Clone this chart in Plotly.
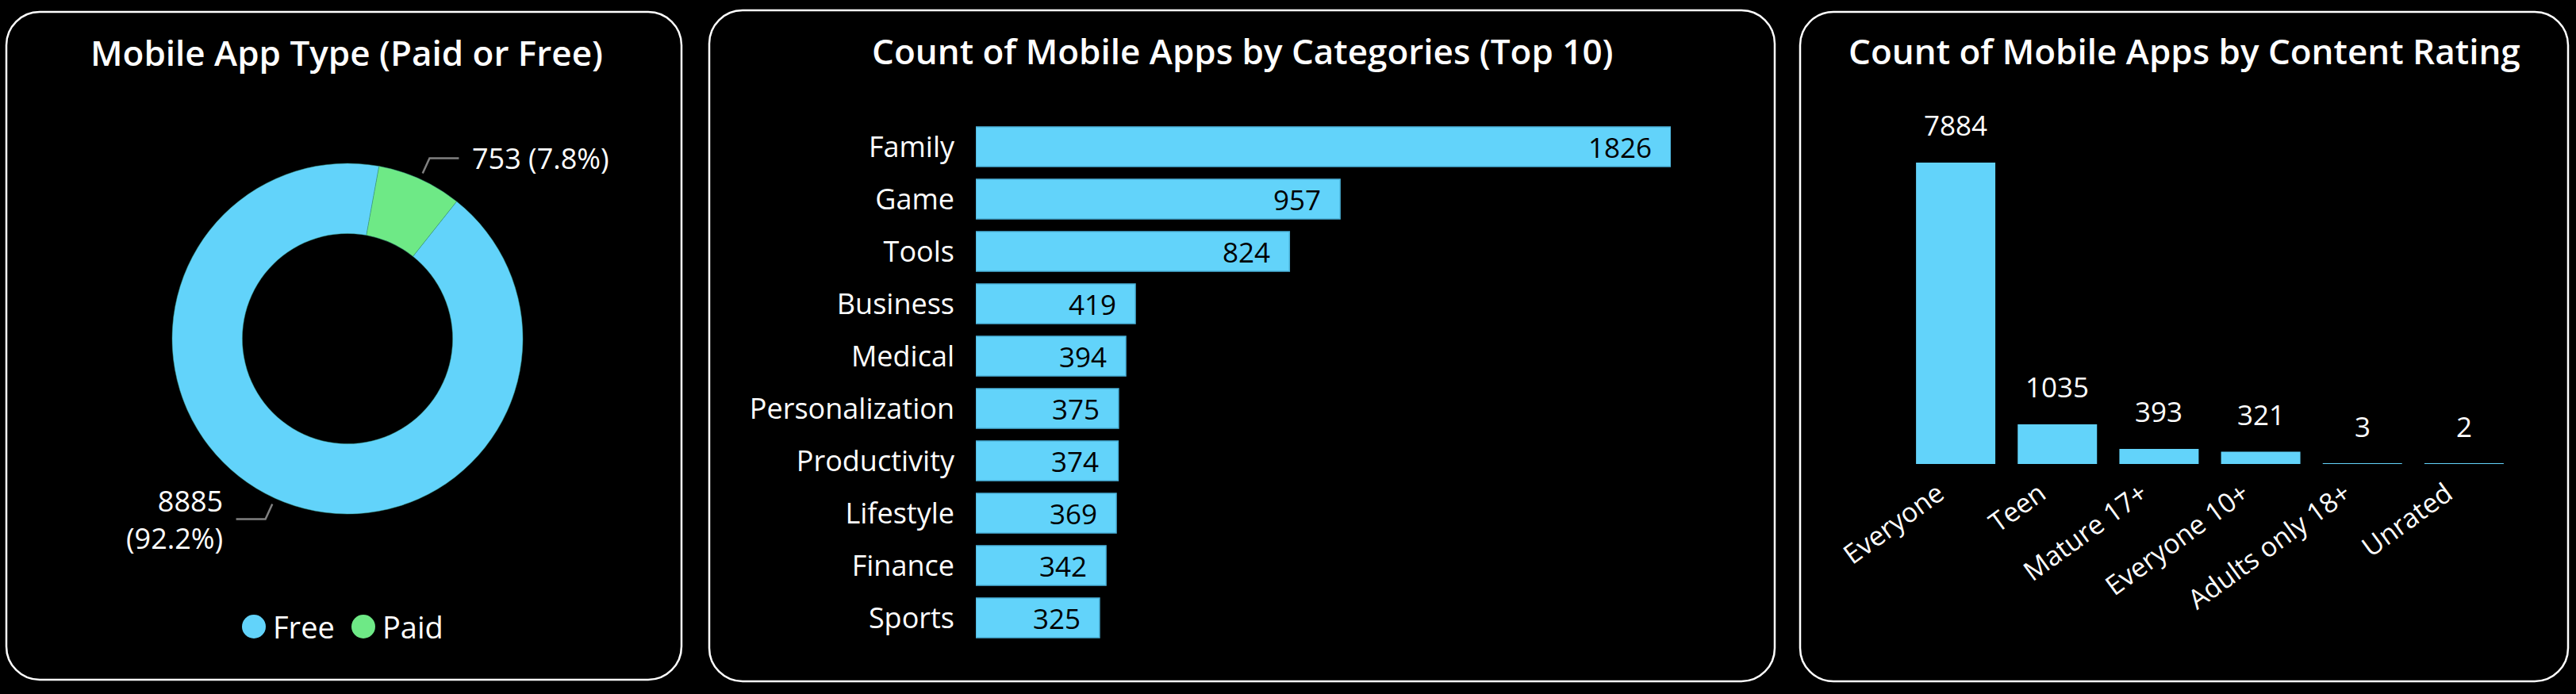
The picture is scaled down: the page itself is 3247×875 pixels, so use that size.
import math
import plotly.graph_objects as go

# ---------------- data ----------------
app_types = ["Free", "Paid"]
app_type_counts = [8885, 753]
app_type_colors = ["#62D3FA", "#6EE986"]

categories = ["Family", "Game", "Tools", "Business", "Medical",
              "Personalization", "Productivity", "Lifestyle", "Finance", "Sports"]
category_counts = [1826, 957, 824, 419, 394, 375, 374, 369, 342, 325]

ratings = ["Everyone", "Teen", "Mature 17+", "Everyone 10+", "Adults only 18+", "Unrated"]
rating_counts = [7884, 1035, 393, 321, 3, 2]

titles = ["Mobile App Type (Paid or Free)",
          "Count of Mobile Apps by Categories (Top 10)",
          "Count of Mobile Apps by Content Rating"]

# ---------------- layout helpers ----------------
W, H = 3247, 875
FONT = "Segoe UI, Open Sans, sans-serif"
BLUE = "#62D3FA"
BAR_EDGE = "#4BB3DA"


def px(x):
    return x / W


def py(y):
    return 1 - y / H


def rrect(x0, y0, x1, y1, r):
    k = 0.5523 * r
    pts = [
        f"M{px(x0 + r)},{py(y0)}", f"L{px(x1 - r)},{py(y0)}",
        f"C{px(x1 - r + k)},{py(y0)} {px(x1)},{py(y0 + r - k)} {px(x1)},{py(y0 + r)}",
        f"L{px(x1)},{py(y1 - r)}",
        f"C{px(x1)},{py(y1 - r + k)} {px(x1 - r + k)},{py(y1)} {px(x1 - r)},{py(y1)}",
        f"L{px(x0 + r)},{py(y1)}",
        f"C{px(x0 + r - k)},{py(y1)} {px(x0)},{py(y1 - r + k)} {px(x0)},{py(y1 - r)}",
        f"L{px(x0)},{py(y0 + r)}",
        f"C{px(x0)},{py(y0 + r - k)} {px(x0 + r - k)},{py(y0)} {px(x0 + r)},{py(y0)}", "Z"]
    return " ".join(pts)


fig = go.Figure()

# ---------------- donut ----------------
cx, cy, R = 438, 427, 221
rotation = 38.5
fig.add_trace(go.Pie(
    labels=app_types, values=app_type_counts, hole=0.6, sort=False,
    direction="clockwise", rotation=rotation,
    marker=dict(colors=app_type_colors, line=dict(color="#3a9a8a", width=0.5)),
    textinfo="none", showlegend=False,
    domain=dict(x=[px(cx - R), px(cx + R)], y=[py(cy + R), py(cy - R)]),
))

annotations = []
shapes = []

total = sum(app_type_counts)
start = rotation
for lab, v, col in zip(app_types, app_type_counts, app_type_colors):
    frac = v / total
    mid = math.radians(start + frac * 360 / 2)
    start += frac * 360
    sx, sy = math.sin(mid), -math.cos(mid)
    x1, y1 = cx + 229 * sx, cy + 229 * sy
    x2, y2 = cx + 250 * sx, cy + 250 * sy
    side = 1 if sx >= 0 else -1
    x3 = x2 + side * 37
    shapes.append(dict(type="path", xref="paper", yref="paper",
                       path=f"M{px(x1)},{py(y1)} L{px(x2)},{py(y2)} L{px(x3)},{py(y2)}",
                       line=dict(color="#808080", width=2.5)))
    if side > 0:
        txt = f"{v} ({frac:.1%})"
    else:
        txt = f"{v}<br>({frac:.1%})"
    annotations.append(dict(
        x=px(x3 + side * 15), y=py(y2), xref="paper", yref="paper",
        text=txt, showarrow=False, xanchor="left" if side > 0 else "right",
        yanchor="middle", align="left" if side > 0 else "right",
        font=dict(family=FONT, size=36, color="white")))

# legend (circle swatches + names)
leg_y = 790
leg_x = [320, 458]
for lab, col, lx in zip(app_types, app_type_colors, leg_x):
    shapes.append(dict(type="circle", xref="paper", yref="paper",
                       x0=px(lx - 15), x1=px(lx + 15), y0=py(leg_y + 15), y1=py(leg_y - 15),
                       fillcolor=col, line=dict(width=0)))
    annotations.append(dict(x=px(lx + 22), y=py(leg_y), xref="paper", yref="paper",
                            text=lab, showarrow=False, xanchor="left", yanchor="middle",
                            font=dict(family=FONT, size=38, color="white")))

# ---------------- categories (horizontal bars) ----------------
fig.add_trace(go.Bar(
    x=category_counts, y=categories, orientation="h",
    marker=dict(color=BLUE, line=dict(color=BAR_EDGE, width=1.5)),
    width=0.76, showlegend=False, xaxis="x", yaxis="y",
))
for c, v in zip(categories, category_counts):
    annotations.append(dict(x=v, y=c, xref="x", yref="y", text=str(v), showarrow=False,
                            xanchor="right", yanchor="middle", xshift=-22,
                            font=dict(family=FONT, size=35, color="black")))

# ---------------- content rating (columns) ----------------
fig.add_trace(go.Bar(
    x=ratings, y=rating_counts,
    marker=dict(color=BLUE, line=dict(width=0)),
    width=0.78, showlegend=False, xaxis="x2", yaxis="y2",
))
for r_, v in zip(ratings, rating_counts):
    annotations.append(dict(x=r_, y=v, xref="x2", yref="y2", text=str(v), showarrow=False,
                            xanchor="center", yanchor="bottom", yshift=22,
                            font=dict(family=FONT, size=35, color="white")))

# ---------------- titles & panel borders ----------------
title_pos = [(437, 66), (1566, 64), (2753, 64)]
for t, (tx, ty) in zip(titles, title_pos):
    annotations.append(dict(x=px(tx), y=py(ty), xref="paper", yref="paper", text=t,
                            showarrow=False, xanchor="center", yanchor="middle",
                            font=dict(family=FONT, size=44, color="white", weight=600)))

panels = [(8, 15, 859, 857), (894, 13, 2237, 859), (2269, 15, 3237, 859)]
for (a, b, c, d) in panels:
    shapes.append(dict(type="path", xref="paper", yref="paper", path=rrect(a, b, c, d, 42),
                       line=dict(color="white", width=2.5)))

fig.update_layout(
    width=W, height=H, margin=dict(l=0, r=0, t=0, b=0, pad=0, autoexpand=False),
    paper_bgcolor="black", plot_bgcolor="black",
    font=dict(family=FONT, color="white"),
    annotations=annotations, shapes=shapes,
    xaxis=dict(domain=[px(1230), px(2106)], range=[0, max(category_counts)], automargin=False,
               showgrid=False, zeroline=False, showticklabels=False, showline=False),
    yaxis=dict(domain=[py(812), py(152)], categoryorder="array", categoryarray=categories,
               autorange="reversed", showgrid=False, zeroline=False, showline=False,
               ticks="", ticklabelstandoff=26, automargin=False,
               tickfont=dict(family=FONT, size=36, color="white")),
    xaxis2=dict(domain=[px(2401), px(3170)], anchor="y2", showgrid=False, zeroline=False,
                showline=False, ticks="", tickangle=-36, automargin=False,
                ticklabelstandoff=10, ticklabelshift=-22,
                tickfont=dict(family=FONT, size=34, color="white")),
    yaxis2=dict(domain=[py(585), py(205)], anchor="x2", range=[0, max(rating_counts)],
                automargin=False,
                showgrid=False, zeroline=False, showticklabels=False, showline=False),
    bargap=0.24,
)

fig.write_html("out.html", config={"displayModeBar": False},
               post_script="document.body.style.margin='0';document.body.style.overflow='hidden';")
